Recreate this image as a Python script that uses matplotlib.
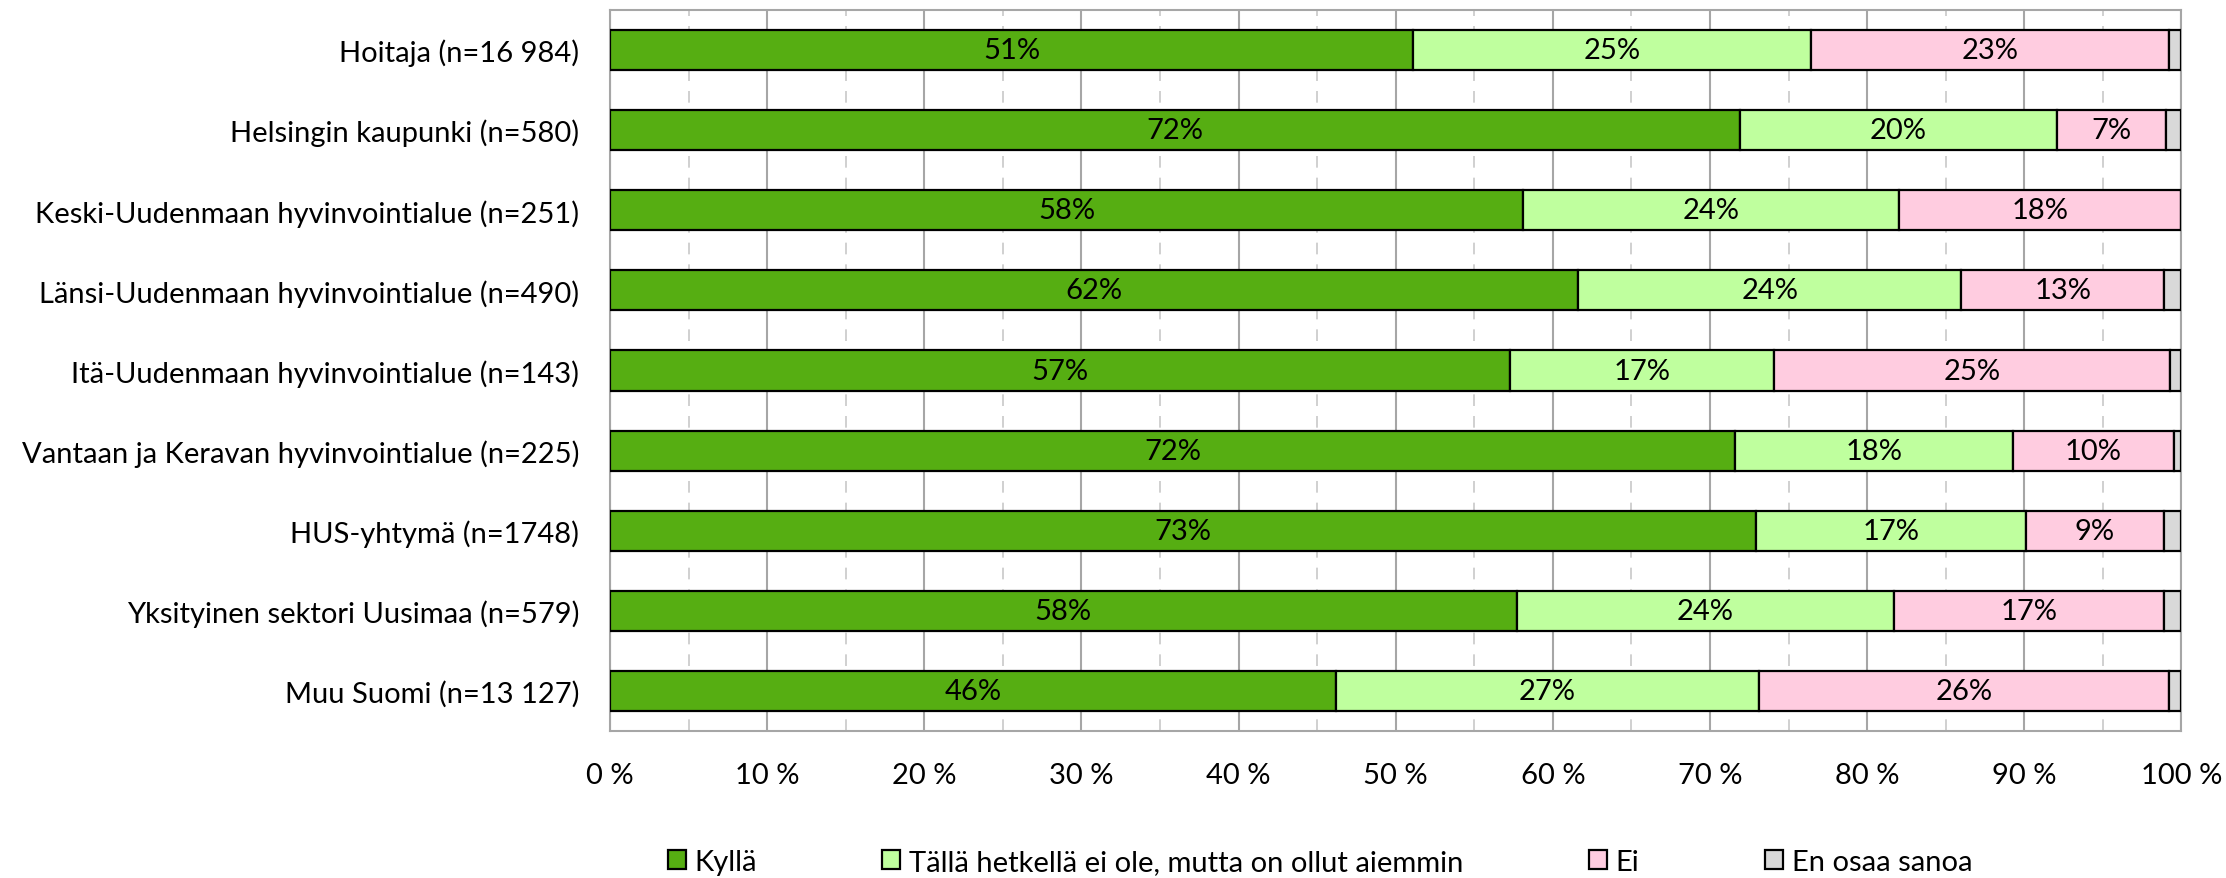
import matplotlib.pyplot as plt
import numpy as np
from matplotlib.ticker import MultipleLocator, FuncFormatter

plt.rcParams['font.family'] = ['Lato', 'DejaVu Sans']

categories = [
    "Hoitaja (n=16 984)",
    "Helsingin kaupunki (n=580)",
    "Keski-Uudenmaan hyvinvointialue (n=251)",
    "Länsi-Uudenmaan hyvinvointialue (n=490)",
    "Itä-Uudenmaan hyvinvointialue (n=143)",
    "Vantaan ja Keravan hyvinvointialue (n=225)",
    "HUS-yhtymä (n=1748)",
    "Yksityinen sektori Uusimaa (n=579)",
    "Muu Suomi (n=13 127)",
]

series_names = ["Kyllä", "Tällä hetkellä ei ole, mutta on ollut aiemmin", "Ei", "En osaa sanoa"]

kylla = [51.1, 71.9, 58.1, 61.6, 57.3, 71.6, 72.9, 57.7, 46.2]
talla = [25.3, 20.2, 23.9, 24.4, 16.8, 17.7, 17.2, 24.0, 26.9]
ei = [22.8, 6.9, 18.0, 12.9, 25.2, 10.2, 8.8, 17.2, 26.1]
eos = [0.8, 1.0, 0.0, 1.1, 0.7, 0.5, 1.1, 1.1, 0.8]

colors = ["#56AE12", "#BFFF9E", "#FFCCE0", "#D9D9D9"]

fig = plt.figure(figsize=(22.26, 8.79), dpi=100)
ax = fig.add_axes([0.274, 0.1672, 0.706, 0.8203])

y = np.arange(len(categories))
left = np.zeros(len(categories))
for name, vals, col in zip(series_names, [kylla, talla, ei, eos], colors):
    vals = np.array(vals)
    bars = ax.barh(y, vals, left=left, height=0.5, color=col, edgecolor="black",
                   linewidth=1.6, label=name, zorder=3)
    if name != "En osaa sanoa":
        ax.bar_label(bars, labels=[f"{v:.0f}%" for v in vals], label_type="center",
                     fontsize=21, color="black")
    left += vals

ax.set_xlim(0, 100)
ax.set_ylim(len(categories) - 0.5, -0.5)
ax.set_yticks(y)
ax.set_yticklabels(categories, fontsize=21)
ax.xaxis.set_major_locator(MultipleLocator(10))
ax.xaxis.set_minor_locator(MultipleLocator(5))
ax.xaxis.set_major_formatter(FuncFormatter(lambda v, p: f"{v:.0f} %"))
ax.tick_params(axis="x", which="both", length=0, pad=22, labelsize=21)
ax.tick_params(axis="y", length=0, pad=22)

ax.grid(axis="x", which="major", color="#A6A6A6", linewidth=1.5, zorder=0)
ax.grid(axis="x", which="minor", color="#C8C8C8", linewidth=1.2, linestyle=(0, (7, 6)), zorder=0)
for s in ax.spines.values():
    s.set_color("#A6A6A6")
    s.set_linewidth(1.5)

fig.legend(loc="center", bbox_to_anchor=(0.593, 0.018), ncol=4, frameon=False,
           fontsize=21, handlelength=0.62, handleheight=0.62, handletextpad=0.3,
           columnspacing=4.3)

fig.savefig("out.png", dpi=100)
